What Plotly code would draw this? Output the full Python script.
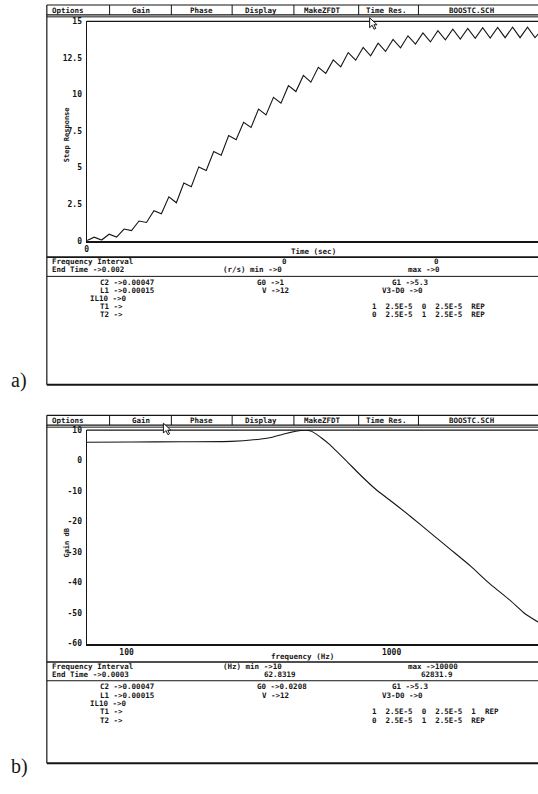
import math
import plotly.graph_objects as go

W, H = 538, 794

# ---------------- data ----------------
# a) step response, sampled at every switching half-period (2.5E-5 s)
step_time_s = [k * 2.5e-5 for k in range(62)]
step_value = [
    0.00, 0.25, 0.05, 0.45, 0.25, 0.80, 0.70, 1.35, 1.25, 2.05,
    1.85, 3.00, 2.60, 3.95, 3.70, 5.05, 4.80, 6.10, 5.85, 7.20,
    6.90, 8.10, 7.75, 9.00, 8.60, 9.80, 9.40, 10.60, 10.20, 11.30,
    10.84, 11.86, 11.44, 12.36, 11.89, 12.86, 12.34, 13.21, 12.64, 13.51,
    12.94, 13.76, 13.19, 14.01, 13.44, 14.21, 13.59, 14.36, 13.74, 14.46,
    13.79, 14.51, 13.84, 14.56, 13.86, 14.58, 13.88, 14.60, 13.88, 14.60,
    13.89, 14.45,
]
step_yticks = [0, 2.5, 5, 7.5, 10, 12.5, 15]
step_yticklabels = ["0", "2.5", "5", "7.5", "10", "12.5", "15"]

# b) gain (dB) versus frequency (Hz)
gain_freq_hz = [70.7, 104.4, 161, 248, 322, 351, 399.5, 455, 496, 541, 580, 672,
                764, 871, 1000, 1179, 1401, 1667, 1982, 2356, 2801, 3190, 3569]
gain_db = [6.0, 6.1, 6.2, 6.3, 7.1, 7.6, 8.9, 9.9, 9.7, 7.6, 5.5, 0.1,
           -4.8, -9.4, -13.4, -18.3, -23.7, -29.1, -34.5, -40.5, -45.8, -50.2, -52.9]
gain_yticks = [10, 0, -10, -20, -30, -40, -50, -60]
gain_xticks = [100, 1000]

menu_items = ["Options", "Gain", "Phase", "Display", "MakeZFDT", "Time Res.", "BOOSTC.SCH"]

# ---------------- helpers ----------------
def X(px):
    return px / W


def Y(py):
    return 1 - py / H


MONO = "DejaVu Sans Mono"
INK = "#151515"
FS = 7.5

annotations = []
shapes = []


def txt(s, px, py, anchor="left", size=FS, family=MONO, weight="bold", angle=0):
    annotations.append(dict(
        text=s, x=X(px), y=Y(py), xref="paper", yref="paper",
        xanchor=anchor, yanchor="middle", showarrow=False, textangle=angle,
        borderpad=0,
        font=dict(family=family, size=size, color=INK, weight=weight)))


def hline(py, x0=45, x1=538, w=1.0):
    shapes.append(dict(type="line", xref="paper", yref="paper",
                       x0=X(x0), x1=X(x1), y0=Y(py), y1=Y(py),
                       line=dict(color=INK, width=w)))


def vline(px, y0, y1, w=1.0):
    shapes.append(dict(type="line", xref="paper", yref="paper",
                       x0=X(px), x1=X(px), y0=Y(y0), y1=Y(y1),
                       line=dict(color=INK, width=w)))


def cursor(tx, ty):
    pts = [(0, 0), (0, 10), (2.5, 7.5), (4.5, 11.5), (6.2, 10.7), (4.3, 7), (7.5, 7)]
    path = "M " + " L ".join(f"{X(tx + dx):.5f},{Y(ty + dy):.5f}" for dx, dy in pts) + " Z"
    shapes.append(dict(type="path", xref="paper", yref="paper", path=path,
                       fillcolor="white", line=dict(color=INK, width=1)))


def screen(top, bottom):
    # frame + menubar
    vline(45, top, bottom, 1.2)
    hline(top, w=1.2)
    hline(top + 10, w=1.4)
    hline(top + 12, w=1.0)
    hline(bottom, w=2.0)
    seps = [108, 170, 231, 293, 358, 418]
    for s in seps:
        vline(s, top, top + 10, 1.0)
    txt(menu_items[0], 49, top + 5.2, size=7.5)
    centers = [140, 200, 260, 322, 386, 472]
    for name, c in zip(menu_items[1:], centers):
        txt(name, c, top + 5.2, anchor="center", size=7.5)


# ---------------- panel a ----------------
screen(1, 385)
shapes.append(dict(type="line", xref="paper", yref="paper", x0=X(85), x1=1,
                   y0=Y(17.5), y1=Y(17.5), line=dict(color=INK, width=1.2)))
txt("Step Response", 65, 132, anchor="center", size=7, angle=-90)
txt("Time (sec)", 313, 250, anchor="center")
hline(256, w=1.6)
txt("Frequency Interval", 49, 260.5)
txt("0", 284, 260.5, anchor="center")
txt("0", 436, 260.5, anchor="center")
txt("End Time ->0.002", 49, 269)
txt("(r/s) min ->0", 221, 269)
txt("max ->0", 407, 269)
hline(275.5, w=1.0)
txt("C2 ->0.00047", 97, 282)
txt("L1 ->0.00015", 97, 290)
txt("IL10 ->0", 87, 298)
txt("T1 ->", 97, 306)
txt("T2 ->", 97, 314)
txt("G0 ->1", 255, 282)
txt("V ->12", 259.5, 290)
txt("G1 ->5.3", 390, 282)
txt("V3-D0 ->0", 380, 290)
txt("1  2.5E-5  0  2.5E-5  REP", 370, 306)
txt("0  2.5E-5  1  2.5E-5  REP", 370, 314)
txt("a)", 8, 381, size=20, family="Liberation Serif", weight="normal")
cursor(369, 14)

# ---------------- panel b ----------------
screen(416, 768)
shapes.append(dict(type="line", xref="paper", yref="paper", x0=X(85), x1=1,
                   y0=Y(431), y1=Y(431), line=dict(color=INK, width=1.2)))
txt("Gain dB", 65, 545, anchor="center", size=7, angle=-90)
txt("frequency (Hz)", 302, 660, anchor="center")
hline(665.5, w=1.6)
txt("Frequency Interval", 49, 670)
txt("(Hz) min ->10", 221, 670)
txt("max ->10000", 407, 670)
txt("End Time ->0.0003", 49, 678.5)
txt("62.8319", 262, 678.5)
txt("62831.9", 420, 678.5)
hline(684.5, w=1.0)
txt("C2 ->0.00047", 97, 690.5)
txt("L1 ->0.00015", 97, 699)
txt("IL10 ->0", 87, 707.5)
txt("T1 ->", 97, 716)
txt("T2 ->", 97, 724.5)
txt("G0 ->0.0208", 255, 690.5)
txt("V ->12", 259.5, 699)
txt("G1 ->5.3", 390, 690.5)
txt("V3-D0 ->0", 380, 699)
txt("1  2.5E-5  0  2.5E-5  1  REP", 370, 716)
txt("0  2.5E-5  1  2.5E-5  REP", 370, 724.5)
txt("b)", 8, 771, size=20, family="Liberation Serif", weight="normal")
cursor(162, 424)

# ---------------- figure ----------------
fig = go.Figure()
fig.add_trace(go.Scatter(x=step_time_s, y=step_value, xaxis="x", yaxis="y",
                         mode="lines", line=dict(color=INK, width=1.1),
                         hoverinfo="skip", showlegend=False))
fig.add_trace(go.Scatter(x=gain_freq_hz, y=gain_db, xaxis="x2", yaxis="y2",
                         mode="lines", line=dict(color=INK, width=1.1, shape="spline",
                                                 smoothing=0.6),
                         hoverinfo="skip", showlegend=False))

tickfont = dict(family=MONO, size=8, color=INK, weight="bold")
common = dict(showgrid=False, zeroline=False, ticks="", linecolor=INK, showline=True,
              tickfont=tickfont, fixedrange=True)

fig.update_layout(
    width=W, height=H, margin=dict(l=0, r=0, t=0, b=0),
    paper_bgcolor="white", plot_bgcolor="white", showlegend=False,
    xaxis=dict(domain=[X(85), 1], range=[0, 0.00151], anchor="y",
               tickmode="array", tickvals=[0], ticktext=["0"],
               linewidth=1.6, **common),
    yaxis=dict(domain=[Y(239.5), Y(17.5)], range=[0, 15], anchor="x",
               tickmode="array", tickvals=step_yticks, ticktext=step_yticklabels,
               linewidth=1.2, ticklabelstandoff=2, **common),
    xaxis2=dict(domain=[X(85), 1], type="log",
                range=[math.log10(gain_freq_hz[0]), math.log10(gain_freq_hz[-1])],
                anchor="y2", tickmode="array", tickvals=gain_xticks,
                ticktext=[str(v) for v in gain_xticks], linewidth=1.6, **common),
    yaxis2=dict(domain=[Y(647), Y(431)], range=[-60, 10], anchor="x2",
                tickmode="array", tickvals=gain_yticks,
                ticktext=[str(v) for v in gain_yticks],
                linewidth=1.2, ticklabelstandoff=2, **common),
    annotations=annotations, shapes=shapes,
)

fig.write_html(
    "out.html",
    config={"displayModeBar": False},
    post_script="document.body.style.margin='0';document.body.style.overflow='hidden';",
)
